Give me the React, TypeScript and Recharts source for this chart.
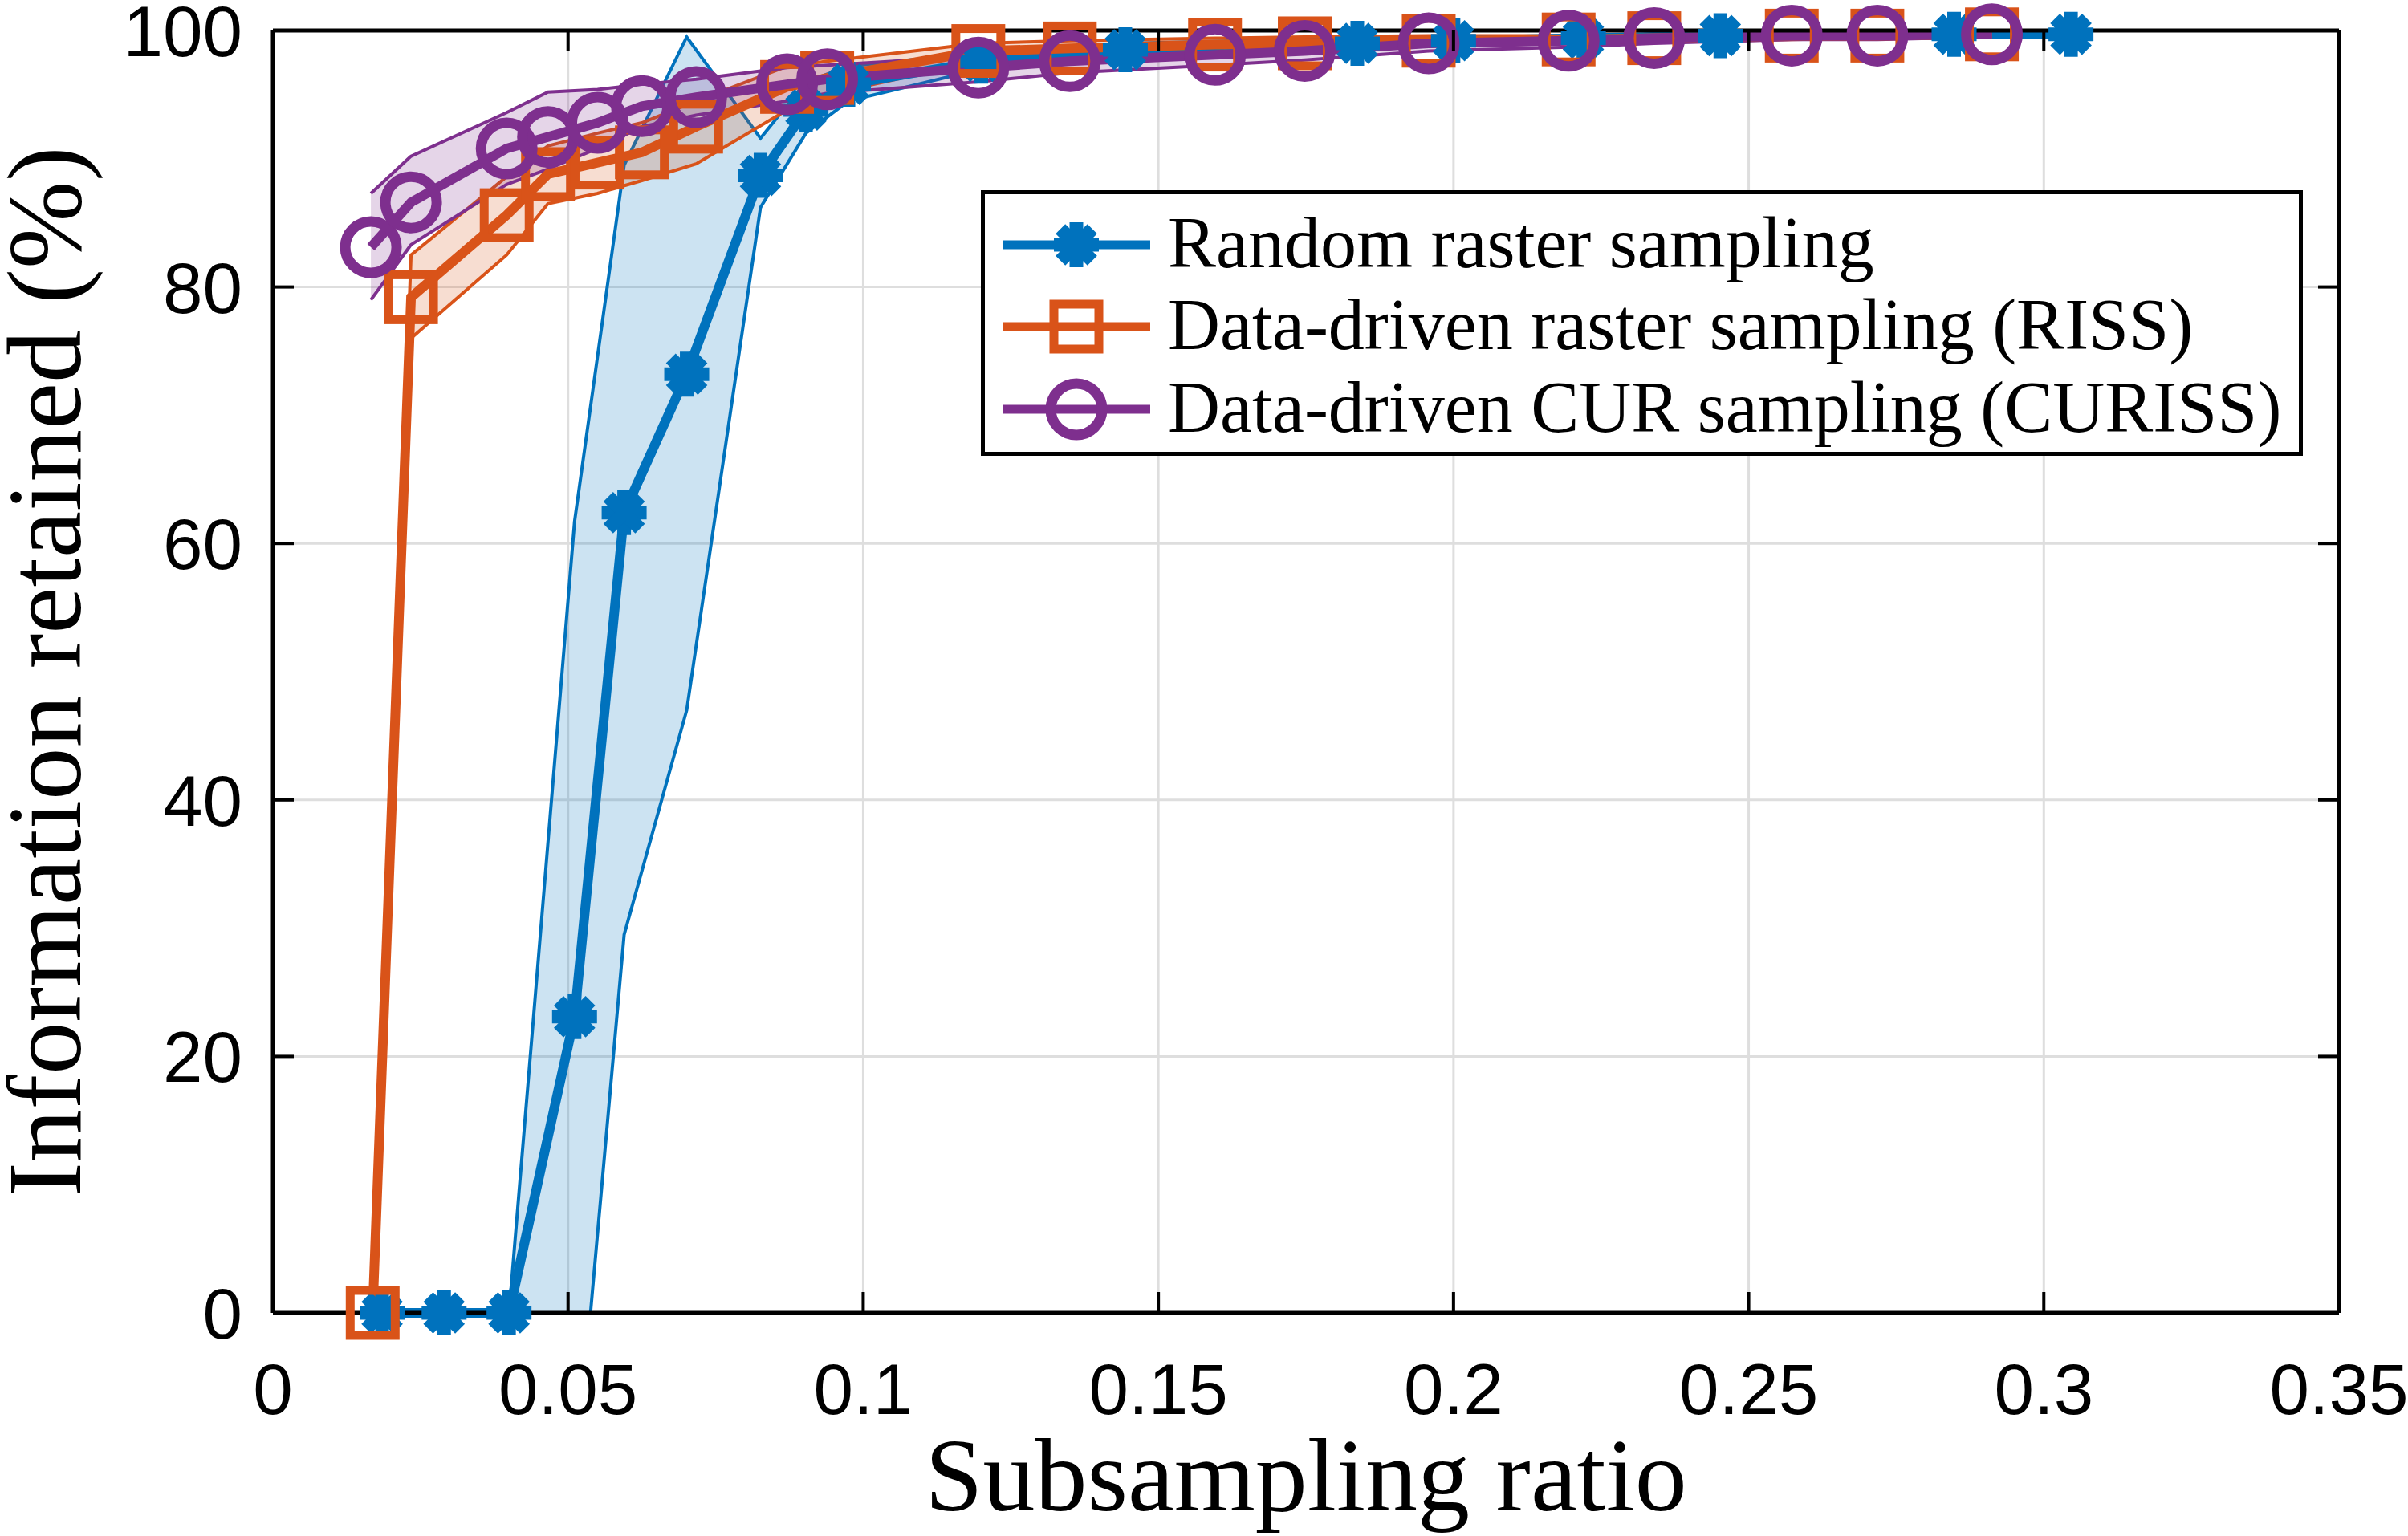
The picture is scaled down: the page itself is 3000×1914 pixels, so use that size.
import React from 'react';
import { ComposedChart, Line, Area, XAxis, YAxis, CartesianGrid, ReferenceLine, Legend } from 'recharts';

// random raster sampling
const ratioRandom = [0.0185, 0.029, 0.04, 0.0511, 0.0595, 0.0701, 0.0826, 0.0903, 0.0975, 0.12, 0.1444, 0.1837, 0.2, 0.222, 0.2452, 0.2848, 0.3046];
const meanRandom = [0, 0, 0, 23.1, 62.4, 73.2, 88.7, 93.8, 95.8, 97.6, 98.5, 99.0, 99.2, 99.4, 99.6, 99.7, 99.7];
const lowRandom = [0, 0, 0, -14, 29.5, 47, 86.2, 92, 94.5, 97, 98, 98.6, 98.9, 99.1, 99.4, 99.5, 99.5];
const highRandom = [0, 0, 0, 61.7, 89.5, 99.5, 91.6, 96, 97.2, 98.3, 99, 99.4, 99.5, 99.6, 99.8, 99.9, 99.9];

// data-driven raster sampling (RISS)
const ratioRiss = [0.0169, 0.0234, 0.0396, 0.0466, 0.055, 0.0625, 0.0717, 0.0871, 0.0939, 0.1195, 0.135, 0.1596, 0.1748, 0.1958, 0.2195, 0.234, 0.2573, 0.2718, 0.2912];
const meanRiss = [0, 79.2, 85.6, 88.8, 89.7, 90.5, 92.5, 95.6, 96.3, 98.4, 98.6, 98.9, 99.0, 99.2, 99.3, 99.4, 99.6, 99.6, 99.7];
const lowRiss = [0, 76, 82.5, 86.5, 87.3, 88.3, 89.6, 93.8, 95, 97.6, 97.9, 98.3, 98.5, 98.8, 99.0, 99.1, 99.3, 99.4, 99.5];
const highRiss = [0, 82.5, 88.6, 91, 92, 92.8, 94.5, 97.2, 97.6, 99.0, 99.2, 99.4, 99.5, 99.6, 99.6, 99.7, 99.8, 99.8, 99.9];

// data-driven CUR sampling (CURISS)
const ratioCur = [0.0166, 0.0234, 0.0396, 0.0466, 0.055, 0.0625, 0.0717, 0.0871, 0.0939, 0.1195, 0.135, 0.1596, 0.1748, 0.1958, 0.2195, 0.234, 0.2573, 0.2718, 0.2912];
const meanCur = [83.1, 86.6, 90.8, 91.7, 92.8, 94.1, 94.8, 95.8, 96.2, 97.1, 97.6, 98.1, 98.4, 99.0, 99.2, 99.4, 99.6, 99.6, 99.7];
const lowCur = [79, 83.3, 88, 89.2, 90.8, 92.5, 93.4, 94.5, 95.1, 96.0, 96.7, 97.3, 97.7, 98.4, 98.7, 99.0, 99.3, 99.3, 99.5];
const highCur = [87.3, 90.2, 93.6, 95.2, 95.4, 95.8, 96.2, 97.1, 97.3, 98.0, 98.3, 98.7, 98.9, 99.4, 99.6, 99.7, 99.8, 99.8, 99.9];

const xTicks = [0, 0.05, 0.1, 0.15, 0.2, 0.25, 0.3, 0.35];
const yTicks = [0, 20, 40, 60, 80, 100];
const legendNames = ['Random raster sampling', 'Data-driven raster sampling (RISS)', 'Data-driven CUR sampling (CURISS)'];

const BLUE = '#0072BD';
const ORANGE = '#D95319';
const PURPLE = '#7E2F8E';

const W = 3000;
const H = 1914;
const PLOT_LEFT = 340;
const PLOT_RIGHT = 2914;
const PLOT_TOP = 38;
const PLOT_BOTTOM = 1636;
const TICK_LEN = 26;
const SANS = '"Liberation Sans", Arial, sans-serif';
const SERIF = '"Liberation Serif", "Times New Roman", serif';

const toLine = (xs: number[], ys: number[]) => xs.map((x, i) => ({ x, y: ys[i] }));
const toBand = (xs: number[], lo: number[], hi: number[]) => xs.map((x, i) => ({ x, range: [lo[i], hi[i]] }));

const randomLine = toLine(ratioRandom, meanRandom);
const rissLine = toLine(ratioRiss, meanRiss);
const curLine = toLine(ratioCur, meanCur);
const randomBand = toBand(ratioRandom, lowRandom, highRandom);
const rissBand = toBand(ratioRiss, lowRiss, highRiss);
const curBand = toBand(ratioCur, lowCur, highCur);

function Star({ cx, cy }: { cx: number; cy: number }) {
  const r = 28;
  const d = r * Math.SQRT1_2;
  return (
    <g stroke={BLUE} strokeWidth={17}>
      <line x1={cx - r} y1={cy} x2={cx + r} y2={cy} />
      <line x1={cx} y1={cy - r} x2={cx} y2={cy + r} />
      <line x1={cx - d} y1={cy - d} x2={cx + d} y2={cy + d} />
      <line x1={cx - d} y1={cy + d} x2={cx + d} y2={cy - d} />
    </g>
  );
}

function Square({ cx, cy }: { cx: number; cy: number }) {
  return <rect x={cx - 28} y={cy - 28} width={56} height={56} fill="none" stroke={ORANGE} strokeWidth={11} />;
}

function Ring({ cx, cy }: { cx: number; cy: number }) {
  return <circle cx={cx} cy={cy} r={32} fill="none" stroke={PURPLE} strokeWidth={13} />;
}

const markers = [Star, Square, Ring];
const colors = [BLUE, ORANGE, PURPLE];

const dotOf = (Marker: any) => (props: any) => (
  <g key={`dot-${props.index}`}>
    <Marker cx={props.cx} cy={props.cy} />
  </g>
);

function XTick(props: any) {
  const { x, y, payload } = props;
  return (
    <g>
      <line x1={x} y1={y} x2={x} y2={y - TICK_LEN} stroke="#000" strokeWidth={4} />
      <line x1={x} y1={PLOT_TOP} x2={x} y2={PLOT_TOP + TICK_LEN} stroke="#000" strokeWidth={4} />
      <text x={x} y={y + 126} textAnchor="middle" fontFamily={SANS} fontSize={89} fill="#000">
        {String(payload.value)}
      </text>
    </g>
  );
}

function YTick(props: any) {
  const { x, y, payload } = props;
  return (
    <g>
      <line x1={x} y1={y} x2={x + TICK_LEN} y2={y} stroke="#000" strokeWidth={4} />
      <line x1={PLOT_RIGHT - TICK_LEN} y1={y} x2={PLOT_RIGHT} y2={y} stroke="#000" strokeWidth={4} />
      <text x={x - 38} y={y + 32} textAnchor="end" fontFamily={SANS} fontSize={89} fill="#000">
        {String(payload.value)}
      </text>
    </g>
  );
}

function YTitle(props: any) {
  const vb = props.viewBox || {};
  const cy = (vb.y ?? PLOT_TOP) + (vb.height ?? PLOT_BOTTOM - PLOT_TOP) / 2;
  return (
    <text x={100} y={cy} transform={`rotate(-90, 100, ${cy})`} textAnchor="middle" fontFamily={SERIF} fontSize={131} fill="#000">
      Information retained (%)
    </text>
  );
}

function LegendBox() {
  const rows = [63, 165, 268];
  return (
    <div style={{ position: 'relative', width: 1647, height: 331, border: '5px solid #000', background: '#fff', boxSizing: 'border-box' }}>
      {legendNames.map((name, i) => {
        const Marker = markers[i];
        return (
          <div key={name} style={{ position: 'absolute', left: 0, top: rows[i] - 60, height: 120, width: 1640 }}>
            <svg width={220} height={120} style={{ position: 'absolute', left: 0, top: 0 }}>
              <line x1={22} y1={60} x2={206} y2={60} stroke={colors[i]} strokeWidth={11} />
              <Marker cx={114} cy={60} />
            </svg>
            <span style={{ position: 'absolute', left: 228, top: 60, transform: 'translateY(-52%)', fontFamily: SERIF, fontSize: 90, lineHeight: 1, whiteSpace: 'nowrap', color: '#000' }}>
              {name}
            </span>
          </div>
        );
      })}
    </div>
  );
}

export default function App() {
  return (
    <div style={{ position: 'absolute', left: 0, top: 0, width: W, height: H, background: '#fff' }}>
      <ComposedChart width={W} height={H} margin={{ top: PLOT_TOP, right: W - PLOT_RIGHT, bottom: 0, left: 0 }}>
        <CartesianGrid stroke="#dedede" strokeWidth={3} />
        <XAxis
          type="number"
          dataKey="x"
          domain={[0, 0.35]}
          ticks={xTicks}
          interval={0}
          height={H - PLOT_BOTTOM}
          tickSize={0}
          tickMargin={0}
          tickLine={false}
          tick={<XTick />}
          axisLine={{ stroke: '#000', strokeWidth: 5 }}
          label={{ value: 'Subsampling ratio', position: 'insideBottom', offset: 32, fontSize: 130, fontFamily: SERIF, fill: '#000' }}
        />
        <YAxis
          type="number"
          domain={[0, 100]}
          ticks={yTicks}
          interval={0}
          width={PLOT_LEFT}
          tickSize={0}
          tickMargin={0}
          tickLine={false}
          tick={<YTick />}
          axisLine={{ stroke: '#000', strokeWidth: 5 }}
          label={{ value: 'Information retained (%)', content: <YTitle /> }}
        />
        <YAxis yAxisId="band" type="number" domain={[0, 100]} allowDataOverflow hide />

        <Area data={randomBand} yAxisId="band" type="linear" dataKey="range" stroke={BLUE} strokeWidth={4} fill={BLUE} fillOpacity={0.2} dot={false} activeDot={false} legendType="none" isAnimationActive={false} />
        <Line data={randomLine} type="linear" dataKey="y" stroke={BLUE} strokeWidth={12} dot={dotOf(Star)} activeDot={false} legendType="none" isAnimationActive={false} />
        <Area data={rissBand} yAxisId="band" type="linear" dataKey="range" stroke={ORANGE} strokeWidth={4} fill={ORANGE} fillOpacity={0.2} dot={false} activeDot={false} legendType="none" isAnimationActive={false} />
        <Line data={rissLine} type="linear" dataKey="y" stroke={ORANGE} strokeWidth={12} dot={dotOf(Square)} activeDot={false} legendType="none" isAnimationActive={false} />
        <Area data={curBand} yAxisId="band" type="linear" dataKey="range" stroke={PURPLE} strokeWidth={4} fill={PURPLE} fillOpacity={0.2} dot={false} activeDot={false} legendType="none" isAnimationActive={false} />
        <Line data={curLine} type="linear" dataKey="y" stroke={PURPLE} strokeWidth={12} dot={dotOf(Ring)} activeDot={false} legendType="none" isAnimationActive={false} />

        <ReferenceLine x={0.35} stroke="#000" strokeWidth={5} />
        <ReferenceLine y={100} stroke="#000" strokeWidth={5} />
        <Legend
          layout="vertical"
          align="center"
          verticalAlign="middle"
          wrapperStyle={{ left: 1222, top: 237, width: 1647, height: 331 }}
          content={<LegendBox />}
        />
      </ComposedChart>
    </div>
  );
}
